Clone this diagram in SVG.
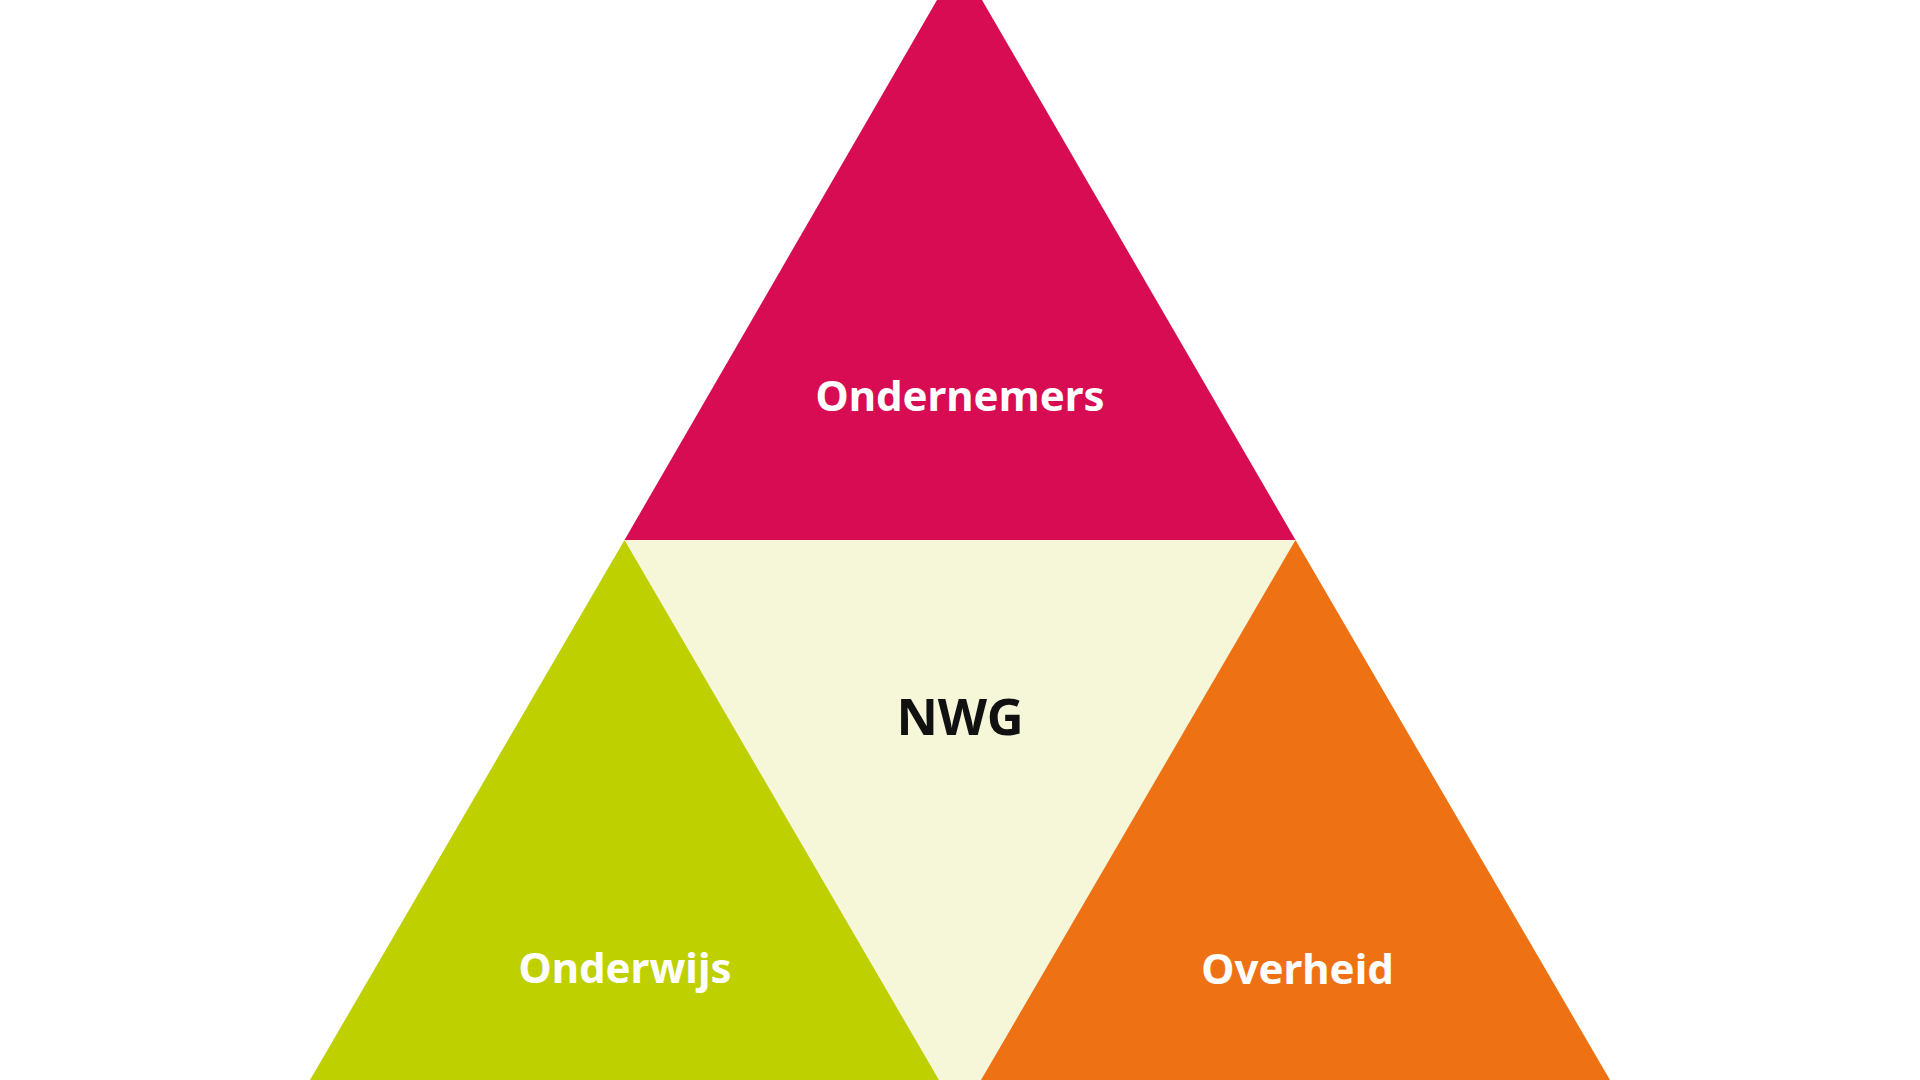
<svg xmlns="http://www.w3.org/2000/svg" width="1920" height="1080" viewBox="0 0 1920 1080">
  <style>
    .lbl { font-family: "Noto Sans", "Open Sans", "Liberation Sans", sans-serif; font-weight: 700; text-anchor: middle; }
    .w { fill: #FFFFFF; font-size: 42px; }
    .k { fill: #111111; font-size: 51px; }
  </style>
  <rect x="0" y="0" width="1920" height="1080" fill="#FFFFFF"/>
  <g id="node-ondernemers">
    <polygon points="937,0 982,0 1295.5,540 624.5,540" fill="#D70C52"/>
    <text class="lbl w" x="960" y="411">Ondernemers</text>
  </g>
  <g id="node-nwg">
    <polygon points="624.5,540 1295.5,540 981,1080 939,1080" fill="#F5F7D8"/>
    <text class="lbl k" x="960" y="735">NWG</text>
  </g>
  <g id="node-onderwijs">
    <polygon points="624.5,540 939,1080 310,1080" fill="#BED000"/>
    <text class="lbl w" x="625" y="983">Onderwijs</text>
  </g>
  <g id="node-overheid">
    <polygon points="1295.5,540 1610,1080 981,1080" fill="#EE7214"/>
    <text class="lbl w" x="1297.5" y="984">Overheid</text>
  </g>
  <g id="connectors"/>
</svg>
